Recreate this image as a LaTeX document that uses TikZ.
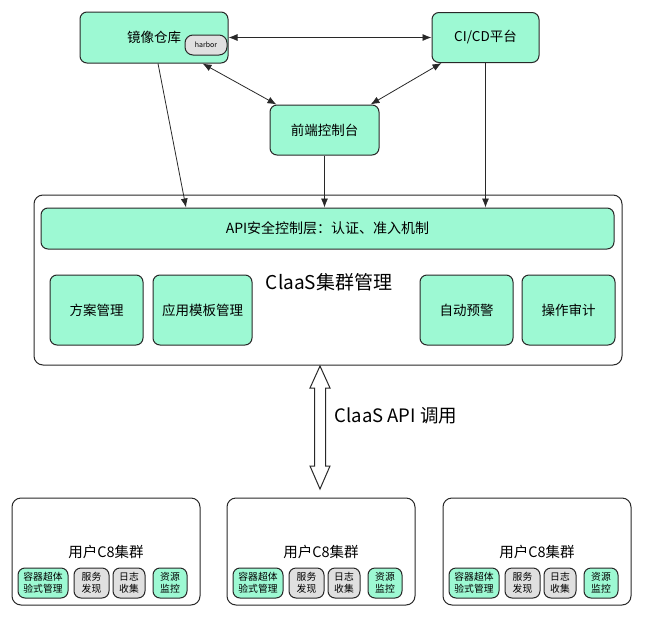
\documentclass[tikz,border=0pt]{standalone}
\usepackage{fontspec}
\setmainfont{Noto Sans CJK SC}
\usepackage{tikz}
\usetikzlibrary{arrows.meta}
\definecolor{mint}{RGB}{157,249,211}
\definecolor{edge}{RGB}{40,40,40}
\definecolor{pill}{RGB}{224,224,224}
\tikzset{
  archbox/.style={draw=edge,fill=mint,line width=1pt,rounded corners=7pt,
    inner sep=0pt,align=center,font=\fontsize{13.5}{15}\selectfont},
  archgrey/.style={archbox,fill=pill},
  archsmall/.style={archbox,minimum height=30pt,rounded corners=7pt,
    font=\fontsize{9.8}{12}\selectfont},
  archouter/.style={draw=edge,fill=white,line width=1pt,rounded corners=9pt,inner sep=0pt},
  archflow/.style={-{Latex[length=9pt,width=7pt]},line width=0.8pt,draw=edge},
  archlink/.style={{Latex[length=9pt,width=7pt]}-{Latex[length=9pt,width=7pt]},
    line width=0.8pt,draw=edge},
  every picture/.style={font=\small}
}

\begin{document}
\begin{tikzpicture}[x=1pt,y=-1pt]
  \useasboundingbox (0,0) rectangle (646,619);
  % top row
  \node[archbox,minimum width=148pt,minimum height=51pt] (repo) at (154,37.5) {镜像仓库};
  \node[archgrey,minimum width=42pt,minimum height=20pt,rounded corners=8pt,
    font=\fontsize{7}{8}\selectfont] (harbor) at (206,45) {harbor};
  \node[archbox,minimum width=107pt,minimum height=50pt] (cicd) at (485.5,37.5) {CI/CD平台};
  \node[archbox,minimum width=109pt,minimum height=50pt] (front) at (324.5,130) {前端控制台};
  % ClaaS
  \node[archouter,minimum width=588pt,minimum height=170pt] (claas) at (328,280) {};
  \node[font=\fontsize{19}{21}\selectfont] (claastitle) at (329,282) {ClaaS集群管理};
  \node[archbox,minimum width=573pt,minimum height=41pt,font=\fontsize{14}{16}\selectfont]
    (api) at (327.5,228.5) {API安全控制层：认证、准入机制};
  \node[archbox,minimum width=93pt,minimum height=70pt] (plan) at (96.5,310) {方案管理};
  \node[archbox,minimum width=99pt,minimum height=70pt] (tmpl) at (202.5,310) {应用模板管理};
  \node[archbox,minimum width=93pt,minimum height=70pt] (alert) at (466.5,310) {自动预警};
  \node[archbox,minimum width=93pt,minimum height=70pt] (audit) at (568.5,310) {操作审计};
  % links
  \draw[archlink] (repo.east) -- (cicd.west);
  \draw[archlink] ([xshift=-26pt]repo.south east) -- ([xshift=7pt]front.north west);
  \draw[archlink] ([xshift=10pt]cicd.south west) -- ([xshift=-9pt]front.north east);
  \draw[archflow] ([xshift=4pt]repo.south) -- ([xshift=-141.5pt]api.north);
  \draw[archflow] (front.south) -- (front.south |- api.north);
  \draw[archflow] (cicd.south) -- (cicd.south |- api.north);
  % API call
  \coordinate (calltop) at (320,366);
  \coordinate (callbot) at (320,489);
  \draw[archouter,rounded corners=0pt] (calltop) -- ++(10,22) -- ++(-4.5,0) -- ++(0,78)
    -- ++(4.5,0) -- (callbot) -- ++(-10,-23) -- ++(4.5,0) -- ++(0,-78) -- ++(-4.5,0) -- cycle;
  \node[anchor=west,font=\fontsize{18.5}{20}\selectfont] (calllabel) at (331,416) {ClaaS API 调用};
  % user clusters
  \foreach \cx/\nm in {12/a,227/b,443/c}{
    \node[archouter,minimum width=188pt,minimum height=107pt] (c8\nm) at (\cx+94,551.5) {};
    \node[font=\fontsize{14.5}{16}\selectfont] (c8\nm-t) at (\cx+94,552) {用户C8集群};
    \node[archsmall,minimum width=50pt] (c8\nm-ctr) at (\cx+31,583) {容器超体\\验式管理};
    \node[archsmall,fill=pill,minimum width=35pt] (c8\nm-svc) at (\cx+79.5,583) {服务\\发现};
    \node[archsmall,fill=pill,minimum width=32pt] (c8\nm-log) at (\cx+117,583) {日志\\收集};
    \node[archsmall,minimum width=34pt] (c8\nm-res) at (\cx+158,583) {资源\\监控};
  }
\end{tikzpicture}
\end{document}
